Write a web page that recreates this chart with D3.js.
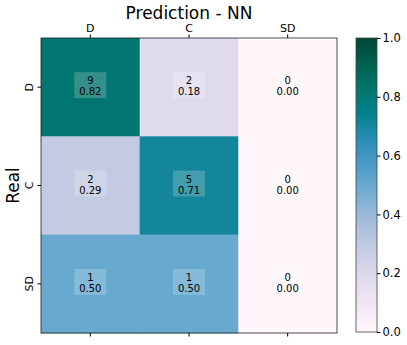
<!DOCTYPE html>
<html>
<head>
<meta charset="utf-8" />
<title>Prediction - NN</title>
<script src="https://cdn.jsdelivr.net/npm/d3@7/dist/d3.min.js"></script>
<style>
  html, body { margin: 0; padding: 0; background: #fff; }
  text { font-family: "DejaVu Sans", sans-serif; fill: #000; }
</style>
</head>
<body>
<svg id="chart" width="407" height="345"></svg>
<script>
// labels and values
const realLabels = ["D", "C", "SD"];
const predLabels = ["D", "C", "SD"];
const counts = [
  [9, 2, 0],
  [2, 5, 0],
  [1, 1, 0]
];
const ratios = [
  [0.82, 0.18, 0.00],
  [0.29, 0.71, 0.00],
  [0.50, 0.50, 0.00]
];
const cbarTicks = [0, 0.2, 0.4, 0.6, 0.8, 1.0];

const svg = d3.select("#chart");
const plot = {left: 41, right: 337, top: 38, bottom: 333};
const cbar = {left: 356, right: 377, top: 38, bottom: 332};

// matplotlib-like PuBuGn: linear between the 9 brewer colours
const brewer = d3.schemePuBuGn[9];
const color = d3.scaleLinear()
  .domain(d3.range(9).map(i => i / 8))
  .range(brewer)
  .interpolate(d3.interpolateRgb);

const x = d3.scaleBand().domain(predLabels).range([plot.left, plot.right]);
const y = d3.scaleBand().domain(realLabels).range([plot.top, plot.bottom]);

const cells = [];
realLabels.forEach((r, i) => {
  predLabels.forEach((p, j) => {
    cells.push({real: r, pred: p, n: counts[i][j], v: ratios[i][j]});
  });
});

svg.append("g").selectAll("rect")
  .data(cells)
  .enter()
  .append("rect")
  .attr("x", d => x(d.pred))
  .attr("y", d => y(d.real))
  .attr("width", x.bandwidth() + 0.5)
  .attr("height", y.bandwidth() + 0.5)
  .attr("fill", d => color(d.v));

// annotation boxes
const notes = svg.append("g").selectAll("g")
  .data(cells)
  .enter()
  .append("g")
  .attr("transform", d => "translate(" + (x(d.pred) + x.bandwidth() / 2) + "," + (y(d.real) + y.bandwidth() / 2) + ")");

notes.append("rect")
  .attr("x", -16)
  .attr("y", -15)
  .attr("width", 32)
  .attr("height", 26)
  .attr("fill", "#fff")
  .attr("fill-opacity", 0.2);

notes.append("text")
  .attr("text-anchor", "middle")
  .attr("y", -3)
  .style("font-size", "10px")
  .text(d => d.n);

notes.append("text")
  .attr("text-anchor", "middle")
  .attr("y", 8)
  .style("font-size", "10px")
  .text(d => d.v.toFixed(2));

// frame
svg.append("rect")
  .attr("x", plot.left)
  .attr("y", plot.top)
  .attr("width", plot.right - plot.left)
  .attr("height", plot.bottom - plot.top)
  .attr("fill", "none")
  .attr("stroke", "#222")
  .attr("stroke-width", 0.8);

// axes
const topAxis = d3.axisTop(x).tickSize(3.5).tickPadding(3);
svg.append("g")
  .attr("transform", "translate(0," + plot.top + ")")
  .call(topAxis)
  .call(g => g.select(".domain").remove())
  .call(g => g.selectAll("text").style("font-size", "11px").style("font-family", "DejaVu Sans"));

svg.append("g")
  .attr("transform", "translate(0," + plot.bottom + ")")
  .call(d3.axisBottom(x).tickSize(3.5).tickFormat(""))
  .call(g => g.select(".domain").remove());

const leftAxis = svg.append("g")
  .attr("transform", "translate(" + plot.left + ",0)")
  .call(d3.axisLeft(y).tickSize(3.5).tickPadding(3))
  .call(g => g.select(".domain").remove());
leftAxis.selectAll("text")
  .style("font-size", "11px")
  .style("font-family", "DejaVu Sans")
  .attr("text-anchor", "middle")
  .attr("dy", null)
  .attr("x", null)
  .attr("transform", "translate(-8.5,0) rotate(-90)");

svg.append("text")
  .attr("x", (plot.left + plot.right) / 2)
  .attr("y", 18.5)
  .attr("text-anchor", "middle")
  .style("font-size", "17px")
  .text("Prediction - NN");

svg.append("text")
  .attr("transform", "translate(19," + ((plot.top + plot.bottom) / 2) + ") rotate(-90)")
  .attr("text-anchor", "middle")
  .style("font-size", "17px")
  .text("Real");

// colour bar
const defs = svg.append("defs");
const grad = defs.append("linearGradient")
  .attr("id", "cbgrad")
  .attr("x1", 0).attr("y1", 1).attr("x2", 0).attr("y2", 0);
grad.selectAll("stop")
  .data(d3.range(0, 1.0001, 0.05))
  .enter()
  .append("stop")
  .attr("offset", d => d)
  .attr("stop-color", d => color(d));

svg.append("rect")
  .attr("x", cbar.left)
  .attr("y", cbar.top)
  .attr("width", cbar.right - cbar.left)
  .attr("height", cbar.bottom - cbar.top)
  .attr("fill", "url(#cbgrad)")
  .attr("stroke", "#444")
  .attr("stroke-width", 0.8);

const cy = d3.scaleLinear().domain([0, 1]).range([cbar.bottom, cbar.top]);
svg.append("g")
  .attr("transform", "translate(" + cbar.right + ",0)")
  .call(d3.axisRight(cy).tickValues(cbarTicks).tickSize(3.5).tickPadding(2).tickFormat(d3.format(".1f")))
  .call(g => g.select(".domain").remove())
  .call(g => g.selectAll("text").style("font-size", "11.5px").style("font-family", "DejaVu Sans"));
</script>
</body>
</html>
